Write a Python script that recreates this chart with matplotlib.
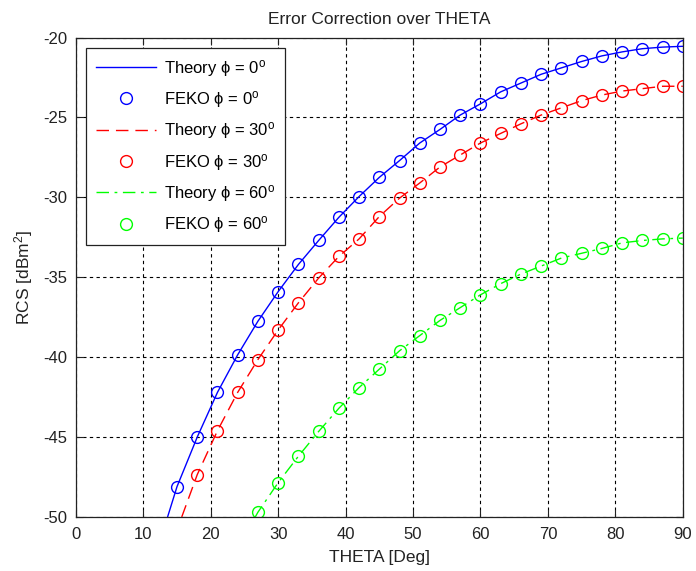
import matplotlib
matplotlib.use("Agg")
import matplotlib.pyplot as plt

plt.rcParams['font.family'] = ['Liberation Sans', 'DejaVu Sans']
plt.rcParams['mathtext.fontset'] = 'custom'
plt.rcParams['mathtext.rm'] = 'Liberation Sans'
plt.rcParams['mathtext.it'] = 'Liberation Sans:italic'
plt.rcParams['axes.unicode_minus'] = False

# FEKO samples every 3 degrees
feko_theta_0 = [15, 18, 21, 24, 27, 30, 33, 36, 39, 42, 45, 48, 51, 54, 57, 60,
                63, 66, 69, 72, 75, 78, 81, 84, 87, 90]
feko_rcs_0 = [-48.1, -45.0, -42.2, -39.85, -37.75, -35.9, -34.2, -32.7, -31.25, -29.95,
              -28.75, -27.7, -26.6, -25.75, -24.85, -24.15, -23.4, -22.85, -22.3, -21.9,
              -21.5, -21.15, -20.9, -20.7, -20.6, -20.55]

feko_theta_30 = [18, 21, 24, 27, 30, 33, 36, 39, 42, 45, 48, 51, 54, 57, 60,
                 63, 66, 69, 72, 75, 78, 81, 84, 87, 90]
feko_rcs_30 = [-47.35, -44.6, -42.2, -40.15, -38.3, -36.6, -35.05, -33.7, -32.6, -31.2,
               -30.05, -29.1, -28.1, -27.35, -26.6, -26.0, -25.4, -24.85, -24.4, -23.95,
               -23.6, -23.35, -23.2, -23.05, -23.05]

feko_theta_60 = [27, 30, 33, 36, 39, 42, 45, 48, 51, 54, 57, 60, 63, 66, 69, 72,
                 75, 78, 81, 84, 87, 90]
feko_rcs_60 = [-49.7, -47.85, -46.2, -44.65, -43.2, -41.9, -40.75, -39.6, -38.65, -37.7,
               -36.9, -36.1, -35.4, -34.8, -34.3, -33.8, -33.5, -33.2, -32.85, -32.7,
               -32.6, -32.55]

# Theory curves (start where each one enters the plotted range)
theory_theta_0 = [13.6] + feko_theta_0
theory_rcs_0 = [-50.0] + feko_rcs_0
theory_theta_30 = [15.7] + feko_theta_30
theory_rcs_30 = [-50.0] + feko_rcs_30
theory_theta_60 = [26.6] + feko_theta_60
theory_rcs_60 = [-50.0] + feko_rcs_60

x_ticks = [0, 10, 20, 30, 40, 50, 60, 70, 80, 90]
y_ticks = [-50, -45, -40, -35, -30, -25, -20]

fig = plt.figure(figsize=(6.96, 5.71), dpi=100)
ax = fig.add_axes([0.109, 0.0946, 0.872, 0.8397])

ms = 8.5
deg = '$^{\\mathrm{o}}$'
ax.plot(theory_theta_0, theory_rcs_0, color='#0000ff', lw=1.0, ls='-',
        label='Theory ϕ = 0' + deg)
ax.plot(feko_theta_0, feko_rcs_0, ls='none', marker='o', mfc='none', mec='#0000ff',
        ms=ms, mew=1.0, label='FEKO ϕ = 0' + deg)
ax.plot(theory_theta_30, theory_rcs_30, color='#ff0000', lw=1.0, ls=(0, (9, 5)),
        label='Theory ϕ = 30' + deg)
ax.plot(feko_theta_30, feko_rcs_30, ls='none', marker='o', mfc='none', mec='#ff0000',
        ms=ms, mew=1.0, label='FEKO ϕ = 30' + deg)
ax.plot(theory_theta_60, theory_rcs_60, color='#00ff00', lw=1.0, ls=(0, (9, 4, 2, 4)),
        label='Theory ϕ = 60' + deg)
ax.plot(feko_theta_60, feko_rcs_60, ls='none', marker='o', mfc='none', mec='#00ff00',
        ms=ms, mew=1.0, label='FEKO ϕ = 60' + deg)

ax.set_xlim(0, 90)
ax.set_ylim(-50, -20)
ax.set_xticks(x_ticks)
ax.set_yticks(y_ticks)
ax.tick_params(direction='in', top=True, right=True, length=5, width=0.8,
               labelsize=12, colors='#222222', pad=6)
ax.tick_params(axis='x', pad=7)
ax.grid(True, color='black', ls=(0, (3, 3)), lw=0.8)
for s in ax.spines.values():
    s.set_linewidth(0.9)
    s.set_color('#222222')

ax.set_title('Error Correction over THETA', fontsize=12.5, color='#222222', pad=10)
ax.set_xlabel('THETA [Deg]', fontsize=12.5, color='#222222', labelpad=6)
ax.set_ylabel('RCS [dBm$^2$]', fontsize=12.5, color='#222222', labelpad=6)

leg = ax.legend(loc='upper left', fontsize=12, handlelength=3.6, framealpha=1,
                fancybox=False, edgecolor='#222222', borderpad=0.6,
                labelspacing=0.62, borderaxespad=0.6, handletextpad=0.5)
leg.get_frame().set_linewidth(0.9)

fig.savefig('out.png', dpi=100, facecolor='white')
